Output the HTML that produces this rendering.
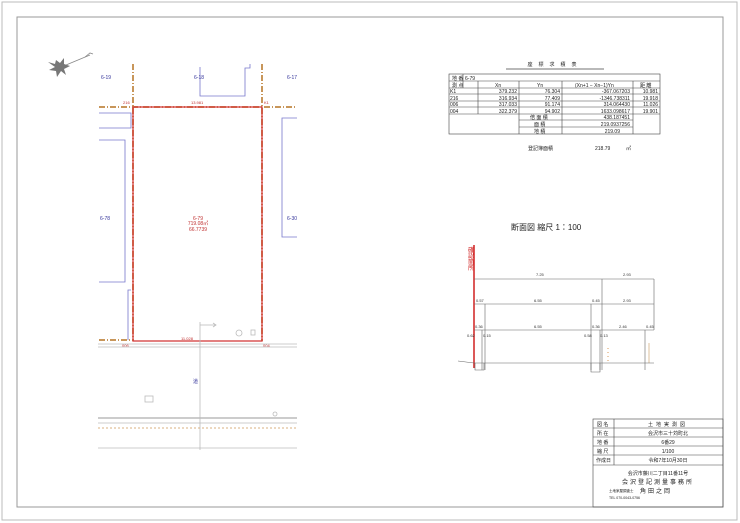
<!DOCTYPE html>
<html><head><meta charset="utf-8"><style>
html,body{margin:0;padding:0;background:#fff}
svg{display:block}
text{font-family:"Liberation Sans","Noto Sans CJK JP",sans-serif}
</style></head><body>
<svg width="740" height="523" viewBox="0 0 740 523" xmlns="http://www.w3.org/2000/svg">
<rect x="2" y="2" width="735" height="518" fill="none" stroke="#bbb" stroke-width="1"/>
<rect x="17" y="17" width="706" height="490" fill="none" stroke="#999" stroke-width="1"/>

<!-- compass -->
<polygon points="56,60 60,63 64,58 64,64 70,66 64,69 66,75 61,71 57,77 56,71 49,70 55,67 48,62 55,64" fill="#777"/>
<line x1="66" y1="65" x2="90" y2="55" stroke="#888" stroke-width="0.8"/>
<polyline points="85,57 90,53 93,54" fill="none" stroke="#888" stroke-width="0.8"/>

<!-- blue outlines -->
<g fill="none" stroke="#7777cc" stroke-width="0.8">
<polyline points="200,67 200,96 245,96 245,68 250,68 250,64"/>
<polyline points="99,113 131,113 131,128 99,128"/>
<polyline points="99,140 125,140 125,282 99,282"/>
<polyline points="297,118 282,118 282,237 297,237"/>
<polyline points="131,290 128,290 128,340"/>
</g>
<g fill="#33339a" font-size="5">
<text x="101" y="79">6-19</text><text x="194" y="79">6-18</text><text x="287" y="79">6-17</text>
<text x="100" y="220">6-78</text><text x="287" y="220">6-30</text>
<text x="193" y="383">道</text>
</g>

<!-- dashed boundaries -->
<g stroke="#c8965a" stroke-width="2" stroke-dasharray="6,2,1,2" fill="none">
<line x1="99" y1="107" x2="297" y2="107"/>
<line x1="133" y1="64" x2="133" y2="341"/>
<line x1="262" y1="64" x2="262" y2="341"/>
<line x1="99" y1="340" x2="133" y2="340"/>
</g>
<rect x="133" y="107" width="129" height="234" fill="none" stroke="#d43c3c" stroke-width="1.3"/>
<g fill="#c03030" font-size="4">
<text x="123" y="104">216</text><text x="264" y="104">K1</text>
<text x="122" y="347">006</text><text x="263" y="347">004</text>
<text x="191" y="104">13.981</text><text x="181" y="340">11.028</text>
</g>
<g fill="#c03030" font-size="5" text-anchor="middle">
<text x="198" y="220">6-79</text><text x="198" y="225">719.08㎡</text><text x="198" y="231">66.7739</text>
</g>

<!-- road area -->
<g stroke="#bbb" stroke-width="0.8" fill="none">
<line x1="98" y1="344" x2="297" y2="344"/><line x1="98" y1="347" x2="297" y2="347"/>
<line x1="200" y1="322" x2="200" y2="450"/>
<polyline points="200,325 216,325"/><polyline points="213,323 216,325 213,327"/>
<circle cx="239" cy="333" r="3"/><rect x="251" y="330" width="4" height="5"/>
<rect x="145" y="396" width="8" height="6"/>
<circle cx="275" cy="414" r="2"/>
<line x1="98" y1="418" x2="297" y2="418" stroke-width="1.5"/>
<line x1="98" y1="423" x2="297" y2="423"/>
<line x1="98" y1="448" x2="297" y2="448"/>
</g>
<line x1="98" y1="428" x2="297" y2="428" stroke="#d8b080" stroke-width="1" stroke-dasharray="2,2"/>

<!-- coordinate table -->
<g font-size="5" fill="#222">
<text x="555" y="66" text-anchor="middle" letter-spacing="6">座標求積表</text>
<line x1="506" y1="69" x2="604" y2="69" stroke="#444" stroke-width="0.8"/>
<g fill="none" stroke="#444" stroke-width="0.6">
<rect x="449" y="74" width="211" height="60"/>
<line x1="449" y1="81" x2="660" y2="81"/><line x1="449" y1="88" x2="660" y2="88"/>
<line x1="449" y1="94" x2="660" y2="94"/><line x1="449" y1="101" x2="660" y2="101"/>
<line x1="449" y1="107" x2="660" y2="107"/><line x1="449" y1="114" x2="660" y2="114"/>
<line x1="519" y1="120" x2="633" y2="120"/><line x1="519" y1="127" x2="633" y2="127"/>
<line x1="478" y1="81" x2="478" y2="114"/><line x1="519" y1="81" x2="519" y2="134"/>
<line x1="562" y1="81" x2="562" y2="134"/><line x1="633" y1="81" x2="633" y2="134"/>
<line x1="463" y1="74" x2="463" y2="88"/>
</g>
<text x="452" y="80">地 番</text><text x="465" y="80">6-79</text>
<text x="452" y="87">測 点</text><text x="495" y="87">Xn</text><text x="537" y="87">Yn</text>
<text x="575" y="87">(Xn+1 − Xn−1)Yn</text><text x="640" y="87">距 離</text>
<text x="450" y="93">K1</text><text x="450" y="100">216</text><text x="450" y="106">006</text><text x="450" y="113">004</text>
<g text-anchor="end">
<text x="517" y="93">379.232</text><text x="517" y="100">316.934</text><text x="517" y="106">317.033</text><text x="517" y="113">322.379</text>
<text x="560" y="93">76.304</text><text x="560" y="100">77.409</text><text x="560" y="106">91.174</text><text x="560" y="113">94.902</text>
<text x="630" y="93">-367.067203</text><text x="630" y="100">-1346.738311</text><text x="630" y="106">314.064430</text><text x="630" y="113">1633.098617</text>
<text x="658" y="93">10.981</text><text x="658" y="100">19.918</text><text x="658" y="106">11.026</text><text x="658" y="113">19.901</text>
<text x="630" y="119">438.187451</text><text x="630" y="126">219.0937256</text><text x="620" y="133">219.09</text>
</g>
<text x="530" y="119">倍 面 積</text><text x="534" y="126">面 積</text><text x="534" y="133">地 積</text>
<text x="528" y="150">登記簿面積</text><text x="595" y="150">218.79</text><text x="626" y="150">㎡</text>
</g>

<!-- cross section -->
<text x="511" y="230" font-size="8" fill="#222">断面図  縮尺  1：100</text>
<line x1="474" y1="245" x2="474" y2="368" stroke="#d02020" stroke-width="1.5"/>
<text font-size="6" fill="#d02020" x="468" y="252">確</text><text font-size="6" fill="#d02020" x="468" y="258">認</text>
<text font-size="6" fill="#d02020" x="468" y="264">箇</text><text font-size="6" fill="#d02020" x="468" y="270">所</text>
<g stroke="#666" stroke-width="0.6" fill="none">
<line x1="474" y1="279" x2="654" y2="279"/><line x1="474" y1="304" x2="654" y2="304"/>
<line x1="474" y1="330" x2="654" y2="330"/>
<line x1="602" y1="279" x2="602" y2="370"/><line x1="654" y1="279" x2="654" y2="330"/>
<line x1="485" y1="304" x2="485" y2="370"/><line x1="591" y1="304" x2="591" y2="370"/>
<line x1="482" y1="330" x2="482" y2="370"/><line x1="600" y1="330" x2="600" y2="370"/>
<line x1="645" y1="330" x2="645" y2="370"/><line x1="649" y1="343" x2="649" y2="363" stroke="#c8965a"/>
<polyline points="458,361 474,363 654,363"/>
<polyline points="475,363 475,370 484,370 484,363"/>
<polyline points="591,363 591,372 600,372 600,363"/>
</g>
<line x1="608" y1="348" x2="608" y2="364" stroke="#d08030" stroke-width="0.8" stroke-dasharray="1,3"/>
<g font-size="4" fill="#333">
<text x="536" y="276">7.25</text><text x="623" y="276">2.93</text>
<text x="476" y="302">0.57</text><text x="534" y="302">6.55</text><text x="592" y="302">0.45</text><text x="623" y="302">2.93</text>
<text x="475" y="328">0.36</text><text x="534" y="328">6.55</text><text x="592" y="328">0.36</text><text x="619" y="328">2.46</text><text x="646" y="328">0.45</text>
<text x="467" y="337">0.62</text><text x="483" y="337">0.15</text><text x="584" y="337">0.58</text><text x="600" y="337">0.13</text>
</g>

<!-- title block -->
<g fill="none" stroke="#444" stroke-width="0.6">
<rect x="593" y="419" width="130" height="88"/>
<line x1="593" y1="428" x2="723" y2="428"/><line x1="593" y1="437" x2="723" y2="437"/>
<line x1="593" y1="446" x2="723" y2="446"/><line x1="593" y1="455" x2="723" y2="455"/>
<line x1="593" y1="465" x2="723" y2="465"/>
<line x1="614" y1="419" x2="614" y2="465"/>
</g>
<g font-size="5" fill="#222">
<text x="597" y="426">図 名</text><text x="597" y="435">所 在</text><text x="597" y="444">地 番</text>
<text x="597" y="453">縮 尺</text><text x="596" y="462">作成日</text>
<g text-anchor="middle">
<text x="668" y="426" letter-spacing="3">土地実測図</text>
<text x="668" y="435">会沢市三十苅町北</text>
<text x="668" y="444">6番29</text>
<text x="668" y="453">1/100</text>
<text x="668" y="462">令和7年10月30日</text>
<text x="658" y="475">会沢市藤川二丁目11番11号</text>
<text x="658" y="484" font-size="6" letter-spacing="2">会沢登記測量事務所</text>
</g>
<text x="609" y="492" font-size="3.5">土地家屋調査士</text><text x="640" y="493" font-size="6" letter-spacing="2">角田之岡</text>
<text x="609" y="499" font-size="3.5">TEL 070-0043-0756</text>
</g>
</svg>
</body></html>
